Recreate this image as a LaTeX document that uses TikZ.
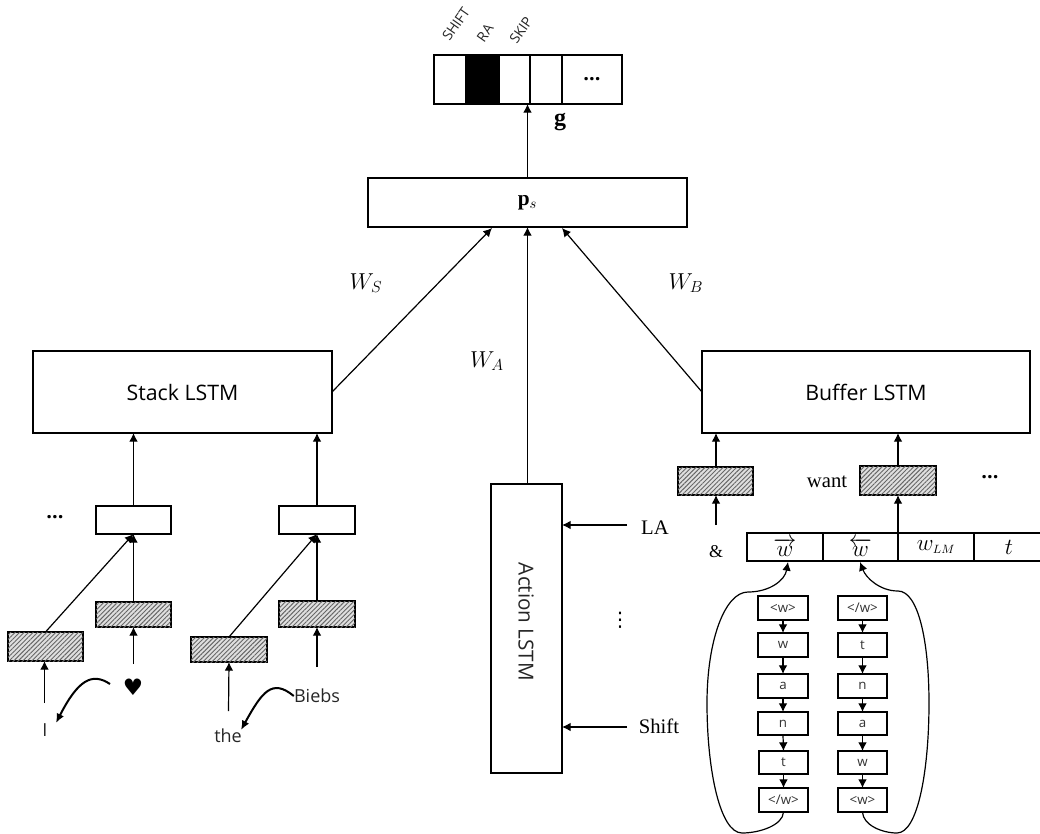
\documentclass[tikz,border=0pt]{standalone}
\usepackage{fontspec}
\usepackage{amsmath}
\setmainfont{Liberation Serif}
\newfontfamily\uisans{Open Sans}
\newfontfamily\symfont{DejaVu Sans}
\usetikzlibrary{arrows.meta,patterns.meta}
\newcommand\pxbox[6][]{\node[plainbox,#1,minimum width={(#4-#2)*0.75pt},minimum height={(#5-#3)*0.75pt}] (#6) at ({(#2+#4)/2},{(#3+#5)/2})}
\newcommand\dotfont{\uisans\bfseries\fontsize{15}{15}\selectfont}
\newcommand\charfont{\uisans\fontsize{10}{11}\selectfont\color{black!80}}
\tikzset{
  plainbox/.style={draw=black,fill=white,line width=.9pt,inner sep=0pt,outer sep=0pt},
  hatchbox/.style={plainbox,fill=gray!25,postaction={pattern={Lines[angle=45,distance=2.4pt,line width=.7pt]},pattern color=black!60}},
  arr/.style={draw=black,line width=.9pt,-{Latex[length=6.5pt,width=6.5pt]}},
  curvearr/.style={draw=black,line width=1.5pt,-{Latex[length=7pt,width=6pt]}},
  sanslabel/.style={font=\uisans\fontsize{13.5}{15}\selectfont,text=black!85,inner sep=0pt},
  seriflabel/.style={font=\fontsize{15.5}{17}\selectfont,inner sep=0pt},
  mathlabel/.style={font=\fontsize{18}{20}\selectfont,inner sep=0pt},
  toplabel/.style={font=\uisans\fontsize{10.5}{12}\selectfont,text=black!85,rotate=55,inner sep=0pt},
  dotlabel/.style={font=\dotfont,inner sep=0pt},
}
\begin{document}
\begin{tikzpicture}[x=0.75pt,y=-0.75pt]
\useasboundingbox (0,0) rectangle (1040,833);
% output bar
\pxbox{434}{55}{466}{104}{g1} {};
\pxbox[fill=black]{466}{55}{499}{104}{g2} {};
\pxbox{499}{55}{530}{104}{g3} {};
\pxbox{530}{55}{562}{104}{g4} {};
\pxbox{562}{55}{622}{104}{g5} {\dotfont ...};
\node[toplabel] (lshift) at (456,24) {SHIFT};
\node[toplabel] (lra) at (485,33) {RA};
\node[toplabel] (lskip) at (521,30) {SKIP};
\node[font=\bfseries\fontsize{18}{20}\selectfont,inner sep=0pt] (lg) at (560,122) {g};
% p_s and LSTMs
\pxbox{368}{178}{687}{227}{ps} {\fontsize{16}{18}\selectfont$\mathbf{p}_{s}$};
\pxbox{33}{351}{332}{433}{stack} {\uisans\fontsize{16}{18}\selectfont Stack LSTM};
\pxbox{702}{351}{1030}{433}{buffer} {\uisans\fontsize{16}{18}\selectfont Buffer LSTM};
\pxbox{491}{484}{562}{773}{action} {};
\node[inner sep=0pt,rotate=-90,font=\uisans\fontsize{15.5}{17}\selectfont,text=black!85] (actionlabel) at (526,622) {Action LSTM};
\node[mathlabel] (ws) at (366,283) {$W_S$};
\node[mathlabel] (wa) at (487,361) {$W_A$};
\node[mathlabel] (wb) at (686,283) {$W_B$};
% stack side
\pxbox{96}{506}{171}{534}{s1} {};
\pxbox{279}{506}{355}{534}{s2} {};
\pxbox[hatchbox]{8}{632}{83}{661}{h1} {};
\pxbox[hatchbox]{96}{602}{171}{627}{h2} {};
\pxbox[hatchbox]{191}{637}{267}{662}{h3} {};
\pxbox[hatchbox]{279}{601}{355}{627}{h4} {};
\node[dotlabel] (dotsa) at (55,517) {...};
\node[sanslabel] (wI) at (45,730) {I};
\node[inner sep=0pt,font=\symfont\fontsize{17}{18}\selectfont] (wheart) at (133,687) {♥};
\node[sanslabel] (wthe) at (228,736) {the};
\node[sanslabel] (wbiebs) at (317,696) {Biebs};
\coordinate (fI) at (44.5,703);
\coordinate (fheart) at (133.5,664);
\coordinate (fthe) at (228.5,711);
\coordinate (fbiebs) at (317,667);
\coordinate (curvea) at (110,684);
\coordinate (curveb) at (56,723);
\coordinate (curvec) at (241,730);
% buffer side
\pxbox[hatchbox]{678}{467}{753}{495}{b1} {};
\pxbox[hatchbox]{860}{466}{936}{495}{b2} {};
\node[seriflabel] (wwant) at (827,482) {want};
\node[dotlabel] (dotsb) at (990,477) {...};
\node[seriflabel,font=\fontsize{13.5}{15}\selectfont] (wamp) at (716,552) {\&};
\coordinate (famp) at (716,525);
\pxbox{747}{533}{823}{561}{r1} {\raisebox{-3pt}{\fontsize{17}{18}\selectfont$\overrightarrow{w}$}};
\pxbox{823}{533}{898}{561}{r2} {\raisebox{-3pt}{\fontsize{17}{18}\selectfont$\overleftarrow{w}$}};
\pxbox{898}{533}{974}{561}{r3} {\fontsize{19}{20}\selectfont$w_{\scriptscriptstyle LM}$};
\pxbox{974}{533}{1044}{561}{r4} {\fontsize{19}{20}\selectfont$t$};
% action inputs
\node[seriflabel] (wla) at (655,528) {LA};
\node[seriflabel] (wsh) at (659,726) {Shift};
\coordinate (fla) at (627,525);
\coordinate (fsh) at (627,727);
\node[inner sep=0pt,font=\symfont\fontsize{15}{15}\selectfont] (vdots) at (620,620) {⋮};
% char columns
\pxbox{758}{596}{808}{620}{c1} {\charfont <w>};
\pxbox{758}{633}{808}{657}{c2} {\charfont w};
\pxbox{758}{674}{808}{698}{c3} {\charfont a};
\pxbox{758}{712}{808}{735}{c4} {\charfont n};
\pxbox{759}{751}{808}{774}{c5} {\charfont t};
\pxbox{759}{788}{808}{812}{c6} {\charfont </w>};
\pxbox{838}{596}{887}{620}{d1} {\charfont </w>};
\pxbox{838}{633}{887}{657}{d2} {\charfont t};
\pxbox{838}{674}{887}{698}{d3} {\charfont n};
\pxbox{838}{712}{887}{735}{d4} {\charfont a};
\pxbox{838}{751}{887}{774}{d5} {\charfont w};
\pxbox{838}{788}{887}{812}{d6} {\charfont <w>};
% connectors
\draw[arr] (ps.north) -- (ps.north |- g3.south);
\draw[arr] (stack.east) -- (492,228);
\draw[arr] (action.north -| ps.south) -- (ps.south);
\draw[arr] (buffer.west) -- (562,228);
\draw[arr] (s1.north) -- (s1.north |- stack.south);
\draw[arr] (s2.north) -- (s2.north |- stack.south);
\draw[arr] (h2.north) -- (s1.south);
\draw[arr] (h1.north) -- (s1.south);
\draw[arr] (h4.north) -- (s2.south);
\draw[arr] (h3.north) -- (s2.south);
\draw[arr] (fI) -- (fI |- h1.south);
\draw[arr] (fheart) -- (h2.south);
\draw[arr] (fthe) -- (h3.south);
\draw[arr] (fbiebs) -- (h4.south);
\draw[arr] (famp) -- (b1.south -| famp);
\draw[arr] (b1.north -| famp) -- (famp |- buffer.south);
\draw[arr] (r2.north east) -- (b2.south);
\draw[arr] (b2.north) -- (b2.north |- buffer.south);
\draw[arr] (fla) -- (fla -| action.east);
\draw[arr] (fsh) -- (fsh -| action.east);
\foreach \a/\b in {c1/c2,c2/c3,c3/c4,c4/c5,c5/c6,d1/d2,d2/d3,d3/d4,d4/d5,d5/d6}
  \draw[arr] (\a.south) -- (\b.north);
\draw[curvearr] (curvea) .. controls (92,672) and (78,680) .. (curveb);
\draw[curvearr] (wbiebs.west) .. controls (272,678) and (262,692) .. (curvec);
\draw[arr] (c6.south) .. controls (783,825) and (760,833) .. (742,833) .. controls (720,833) and (707,770) .. (707,703) .. controls (707,640) and (725,592) .. (748,592) .. controls (770,592) and (785,580) .. (788,562);
\draw[arr] (d6.south) .. controls (863,825) and (882,833) .. (897,833) .. controls (918,833) and (929,770) .. (929,703) .. controls (929,640) and (918,591) .. (898,591) .. controls (880,591) and (866,578) .. (860,562);
\end{tikzpicture}
\end{document}
